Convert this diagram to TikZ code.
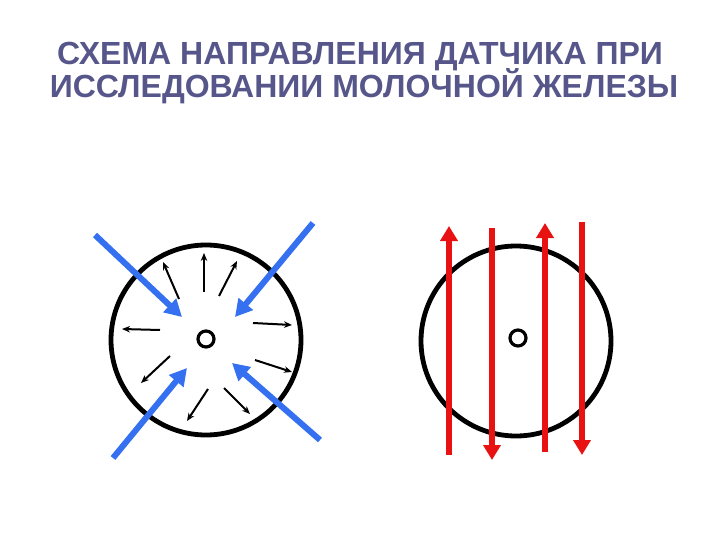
\documentclass[tikz,border=0pt]{standalone}
\usepackage{fontspec}
\setmainfont{Liberation Sans}
\usetikzlibrary{arrows.meta}
\definecolor{titlecol}{RGB}{86,86,138}
\definecolor{bluearr}{RGB}{52,112,240}
\definecolor{redarr}{RGB}{232,18,18}
\tikzset{
  breast/.style={circle,draw=black,line width=4.8pt,minimum size=190pt,inner sep=0pt},
  nipple/.style={circle,draw=black,line width=3.2pt,minimum size=16pt,inner sep=0pt},
  bluestroke/.style={draw=bluearr,line width=6pt,-{Triangle[length=17pt,width=18pt]}},
  redstroke/.style={draw=redarr,line width=6pt,-{Triangle[length=15pt,width=17pt]}},
  thinarr/.style={draw=black,line width=2pt,-{Stealth[length=8pt,width=6.5pt]}},
  titletext/.style={font=\fontsize{32}{34}\selectfont\bfseries,text=titlecol,align=center,inner sep=0pt}
}
\begin{document}
\begin{tikzpicture}[x=1pt,y=-1pt]
\useasboundingbox (0,0) rectangle (720,540);
\node[titletext,anchor=base] (title1) at (360,65) {СХЕМА НАПРАВЛЕНИЯ ДАТЧИКА ПРИ};
\node[titletext,anchor=base] (title2) at (364,98) {ИССЛЕДОВАНИИ МОЛОЧНОЙ ЖЕЛЕЗЫ};
% left breast
\node[breast] (lb) at (206,340) {};
\node[nipple] (ln) at (206,339) {};
% thin radial arrows
\coordinate (t1s) at (204,292); \coordinate (t1e) at (204,253);
\coordinate (t2s) at (179,299); \coordinate (t2e) at (163,262);
\coordinate (t3s) at (219,296); \coordinate (t3e) at (237,261);
\coordinate (t4s) at (160,330); \coordinate (t4e) at (122,329);
\coordinate (t5s) at (253,323); \coordinate (t5e) at (292,325);
\coordinate (t6s) at (255,360); \coordinate (t6e) at (292,372);
\coordinate (t7s) at (170,356); \coordinate (t7e) at (141,383);
\coordinate (t8s) at (208,389); \coordinate (t8e) at (187,421);
\coordinate (t9s) at (224,388); \coordinate (t9e) at (250,414);
\foreach \i in {1,...,9} { \draw[thinarr] (t\i s) -- (t\i e); }
% blue arrows
\coordinate (b1s) at (95,235);  \coordinate (b1e) at (182,317);
\coordinate (b2s) at (313,223); \coordinate (b2e) at (235,317);
\coordinate (b3s) at (113,458); \coordinate (b3e) at (187,368);
\coordinate (b4s) at (320,440); \coordinate (b4e) at (232,363);
\foreach \i in {1,...,4} { \draw[bluestroke] (b\i s) -- (b\i e); }
% right breast
\node[breast] (rb) at (516,341) {};
\node[nipple] (rn) at (518,338) {};
\coordinate (r1s) at (449,455); \coordinate (r1e) at (449,226);
\coordinate (r2s) at (492,228); \coordinate (r2e) at (492,460);
\coordinate (r3s) at (545,452); \coordinate (r3e) at (545,223);
\coordinate (r4s) at (582,222); \coordinate (r4e) at (582,455);
\foreach \i in {1,...,4} { \draw[redstroke] (r\i s) -- (r\i e); }
\end{tikzpicture}
\end{document}
